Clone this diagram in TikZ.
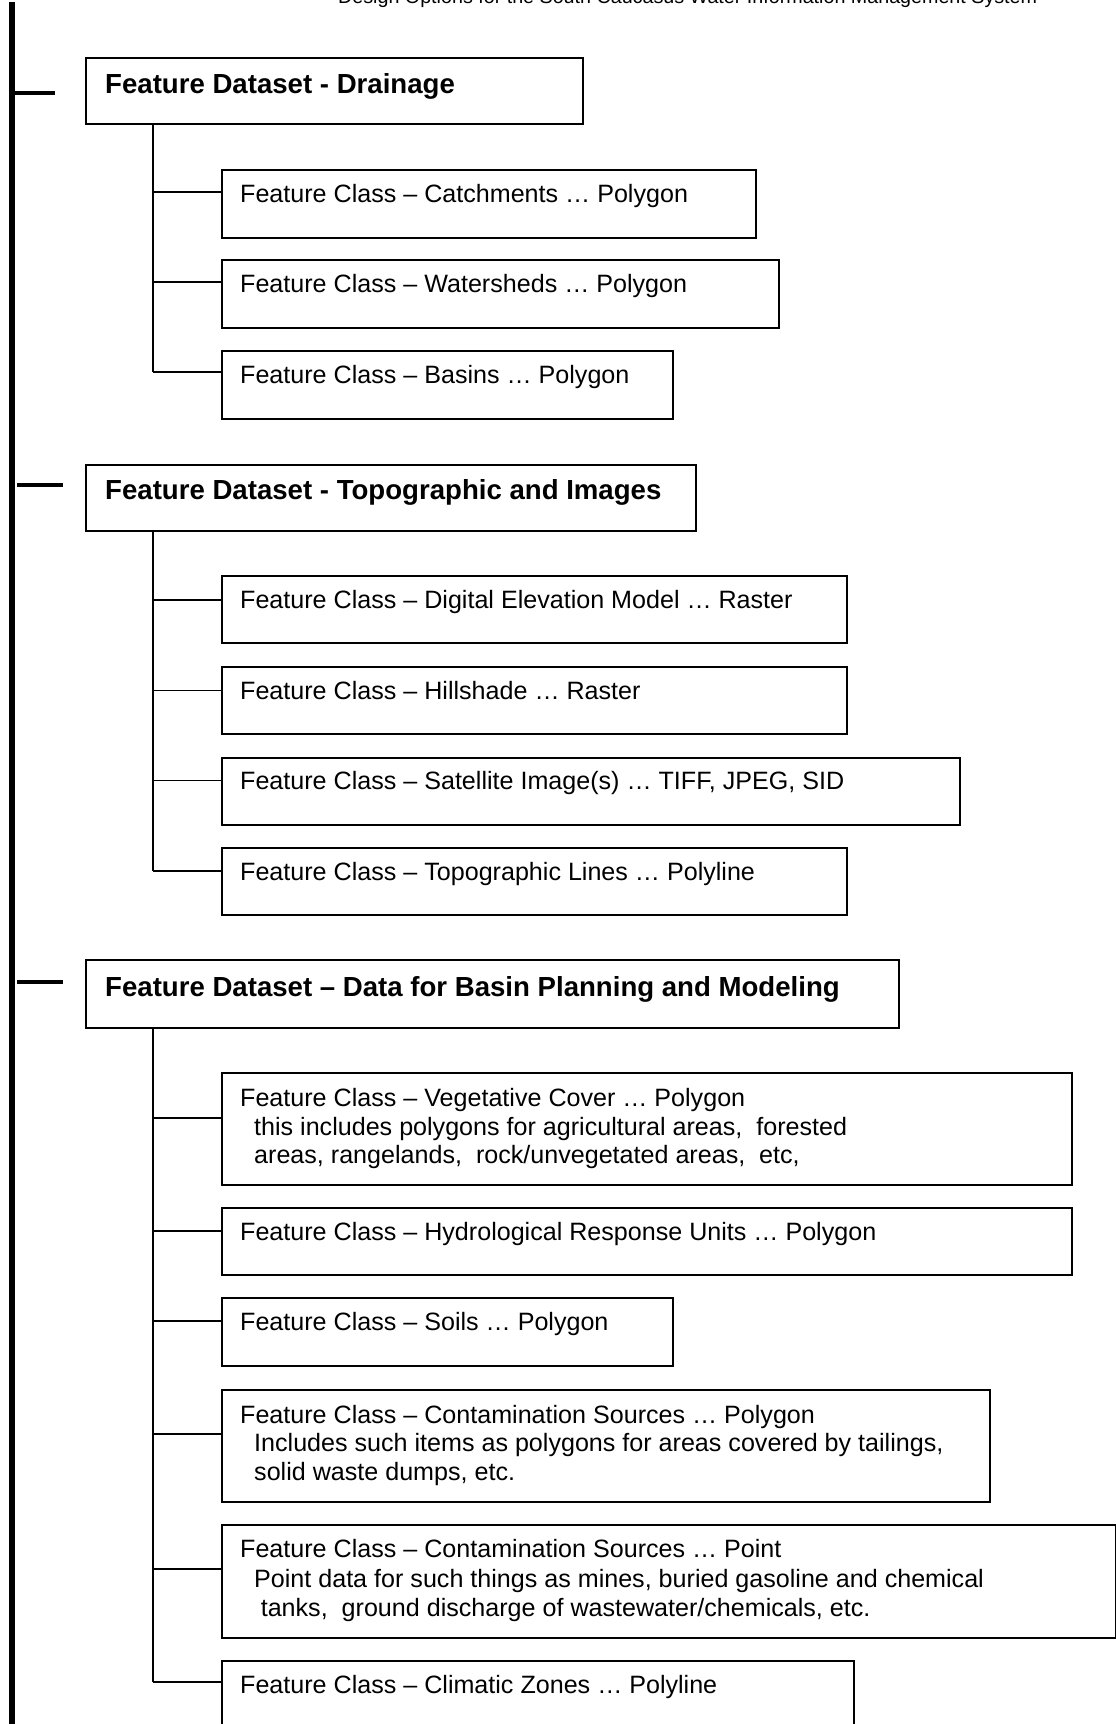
\documentclass[tikz,border=0pt]{standalone}
\usepackage{fontspec}
\setmainfont{Liberation Sans}
\tikzset{
  box/.style={draw=black, line width=2pt, inner sep=0pt, anchor=north west},
  conn/.style={draw=black, line width=1.6pt},
  mainline/.style={draw=black, line width=5.5pt},
  stub/.style={draw=black, line width=4.5pt},
  txt/.style={inner sep=0pt, anchor=base west, font=\fontsize{25.1}{28.6}\selectfont},
  ttl/.style={inner sep=0pt, anchor=base west, font=\fontsize{27.6}{31}\selectfont\bfseries},
  hdr/.style={inner sep=0pt, anchor=base west, font=\fontsize{19.7}{23}\selectfont}
}
\begin{document}
\begin{tikzpicture}[x=1pt,y=-1pt]
\useasboundingbox (0,0) rectangle (1116,1724);
\fill[white] (0,0) rectangle (1116,1724);
% header (cut off at top, as in the reference)
\node[hdr] (hdr) at (338,3) {Design Options for the South Caucasus Water Information Management System};
% main thick line
\coordinate (mtop) at (12,2);
\coordinate (mbot) at (12,1730);
\draw[mainline] (mtop) -- (mbot);
% dataset stubs
\coordinate (a1) at (12,93);  \coordinate (b1) at (55,93);
\coordinate (a2) at (17,485); \coordinate (b2) at (63,485);
\coordinate (a3) at (17,982); \coordinate (b3) at (63,982);
\draw[stub] (a1) -- (b1);
\draw[stub] (a2) -- (b2);
\draw[stub] (a3) -- (b3);

% ---------- Dataset 1 ----------
\node[box, minimum width=497pt, minimum height=66pt] (d1) at (85,57) {};
\node[ttl] (d1t) at (105,93) {Feature Dataset - Drainage};
\coordinate (tr1) at (153,123);

\node[box, minimum width=534pt, minimum height=68pt] (c1) at (221,169) {};
\node[txt] (c1t) at (240,202) {Feature Class – Catchments … Polygon};
\coordinate (s1) at (221,192);

\node[box, minimum width=557pt, minimum height=68pt] (c2) at (221,259) {};
\node[txt] (c2t) at (240,292) {Feature Class – Watersheds … Polygon};
\coordinate (s2) at (221,282);

\node[box, minimum width=451pt, minimum height=68pt] (c3) at (221,350) {};
\node[txt] (c3t) at (240,383) {Feature Class – Basins … Polygon};
\coordinate (s3) at (221,372);

\draw[conn] (tr1) -- (tr1 |- s3);
\foreach \s in {s1,s2,s3} \draw[conn] (\s) -- (\s -| tr1);

% ---------- Dataset 2 ----------
\node[box, minimum width=610pt, minimum height=66pt] (d2) at (85,464) {};
\node[ttl] (d2t) at (105,499) {Feature Dataset - Topographic and Images};
\coordinate (tr2) at (153,530);

\node[box, minimum width=624.5pt, minimum height=67pt] (c4) at (221,575) {};
\node[txt] (c4t) at (240,608) {Feature Class – Digital Elevation Model … Raster};
\coordinate (s4) at (221,600);

\node[box, minimum width=624.5pt, minimum height=67pt] (c5) at (221,666) {};
\node[txt] (c5t) at (240,699) {Feature Class – Hillshade … Raster};
\coordinate (s5) at (221,690.5);

\node[box, minimum width=738pt, minimum height=67pt] (c6) at (221,756.5) {};
\node[txt] (c6t) at (240,789.5) {Feature Class – Satellite Image(s) … TIFF, JPEG, SID};
\coordinate (s6) at (221,780.6);

\node[box, minimum width=624.5pt, minimum height=67pt] (c7) at (221,846.6) {};
\node[txt] (c7t) at (240,880) {Feature Class – Topographic Lines … Polyline};
\coordinate (s7) at (221,870.8);

\draw[conn] (tr2) -- (tr2 |- s7);
\foreach \s in {s4,s5,s6,s7} \draw[conn] (\s) -- (\s -| tr2);

% ---------- Dataset 3 ----------
\node[box, minimum width=813pt, minimum height=68pt] (d3) at (85,959) {};
\node[ttl] (d3t) at (105,996) {Feature Dataset – Data for Basin Planning and Modeling};
\coordinate (tr3) at (153,1027);

\node[box, minimum width=850pt, minimum height=112pt] (c8) at (221,1072) {};
\node[txt] (c8t) at (240,1106) {Feature Class – Vegetative Cover … Polygon};
\node[txt] (c8u) at (254,1135) {this includes polygons for agricultural areas,\ \ forested};
\node[txt] (c8v) at (254,1163) {areas, rangelands,\ \ rock/unvegetated areas,\ \ etc,};
\coordinate (s8) at (221,1118);

\node[box, minimum width=850pt, minimum height=67pt] (c9) at (221,1207) {};
\node[txt] (c9t) at (240,1240) {Feature Class – Hydrological Response Units … Polygon};
\coordinate (s9) at (221,1231);

\node[box, minimum width=451pt, minimum height=68pt] (c10) at (221,1297) {};
\node[txt] (c10t) at (240,1330) {Feature Class – Soils … Polygon};
\coordinate (s10) at (221,1321);

\node[box, minimum width=767.5pt, minimum height=112pt] (c11) at (221,1388.7) {};
\node[txt] (c11t) at (240,1423) {Feature Class – Contamination Sources … Polygon};
\node[txt] (c11u) at (254,1451.5) {Includes such items as polygons for areas covered by tailings,};
\node[txt] (c11v) at (254,1480) {solid waste dumps, etc.};
\coordinate (s11) at (221,1434);

\node[box, minimum width=893.5pt, minimum height=113pt] (c12) at (221,1524) {};
\node[txt] (c12t) at (240,1557) {Feature Class – Contamination Sources … Point};
\node[txt] (c12u) at (254,1587) {Point data for such things as mines, buried gasoline and chemical};
\node[txt] (c12v) at (260.6,1616) {tanks,\ \ ground discharge of wastewater/chemicals, etc.};
\coordinate (s12) at (221,1569);

\node[box, minimum width=632pt, minimum height=90pt] (c13) at (221,1660) {};
\node[txt] (c13t) at (240,1693) {Feature Class – Climatic Zones … Polyline};
\coordinate (s13) at (221,1682);

\draw[conn] (tr3) -- (tr3 |- s13);
\foreach \s in {s8,s9,s10,s11,s12,s13} \draw[conn] (\s) -- (\s -| tr3);
\end{tikzpicture}
\end{document}
